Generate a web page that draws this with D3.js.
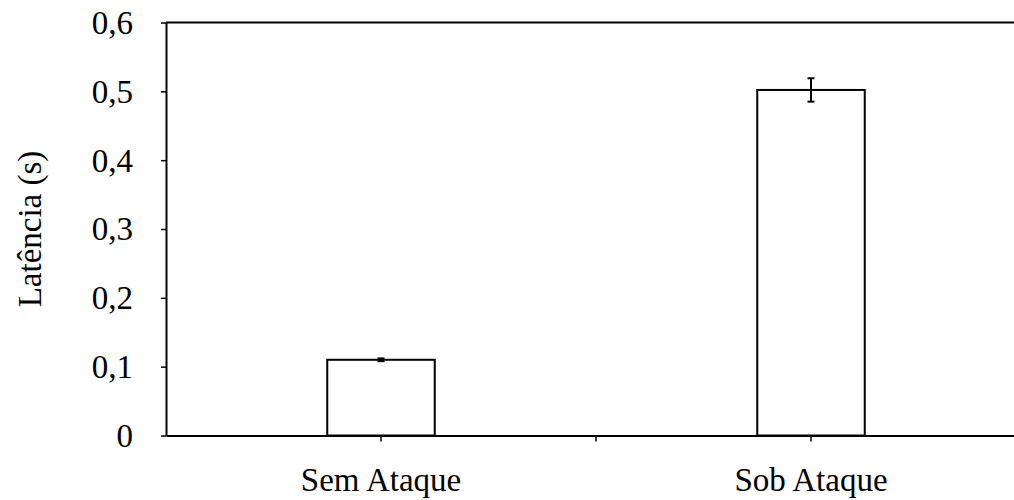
<!DOCTYPE html>
<html>
<meta charset="utf-8"/>
<head>
  <title>Latência</title>
  <script src="https://d3js.org/d3.v7.min.js" charset="utf-8"></script>
  <style>
    body { margin: 0; background: #fff; }
  </style>
</head>
<body>
<script>
  // data
  var categories = ["Sem Ataque", "Sob Ataque"];
  var latency = [0.11, 0.502];
  var errors = [0.002, 0.017];
  var yTicks = [0, 0.1, 0.2, 0.3, 0.4, 0.5, 0.6];

  var W = 1014, H = 500;
  var FONT = "Liberation Serif, Tinos, DejaVu Serif, Noto Serif, serif";
  var FS = 33;
  var margin = {top: 22.5, left: 166, bottom: 64.5},
      plotW = 860,
      plotH = H - margin.top - margin.bottom;

  var svg = d3.select("body").append("svg")
      .attr("width", W)
      .attr("height", H)
      .style("font-family", FONT);

  var g = svg.append("g")
      .attr("transform", "translate(" + margin.left + "," + margin.top + ")");

  var x = d3.scaleBand().domain(categories).range([0, plotW]).paddingInner(0).paddingOuter(0);
  var y = d3.scaleLinear().domain([0, 0.6]).range([plotH, 0]);
  var fmt = function(d){ return d3.format(".1f")(d).replace(".", ",").replace(/^0,0$/, "0"); };

  // top border
  g.append("line")
    .attr("x1", 0).attr("x2", plotW)
    .attr("y1", 0).attr("y2", 0)
    .style("stroke", "#000").style("stroke-width", 2);

  // bars
  var bw = x.bandwidth() * 0.25;
  g.selectAll("rect.bar").data(latency).enter().append("rect")
    .attr("class", "bar")
    .attr("x", function(d, i){ return x(categories[i]) + x.bandwidth()/2 - bw/2; })
    .attr("y", function(d){ return y(d); })
    .attr("width", bw)
    .attr("height", function(d){ return plotH - y(d); })
    .style("fill", "#fff").style("stroke", "#000").style("stroke-width", 2);

  // error bars
  var eb = g.selectAll("g.err").data(latency).enter().append("g")
    .attr("transform", function(d, i){ return "translate(" + (x(categories[i]) + x.bandwidth()/2) + ",0)"; });
  eb.append("line")
    .attr("x1", 0).attr("x2", 0)
    .attr("y1", function(d, i){ return y(d + errors[i]); })
    .attr("y2", function(d, i){ return y(d - errors[i]); })
    .style("stroke", "#000").style("stroke-width", 2);
  [1, -1].forEach(function(s){
    eb.append("line")
      .attr("x1", -3.5).attr("x2", 3.5)
      .attr("y1", function(d, i){ return y(d + s*errors[i]); })
      .attr("y2", function(d, i){ return y(d + s*errors[i]); })
      .style("stroke", "#000").style("stroke-width", 2);
  });

  // y axis
  var yAxis = g.append("g")
    .call(d3.axisLeft(y).tickValues(yTicks).tickFormat(fmt).tickSize(5).tickSizeOuter(0).tickPadding(28));
  yAxis.attr("font-family", null).attr("font-size", FS);
  yAxis.select(".domain").style("stroke-width", 2);
  yAxis.selectAll(".tick line").style("stroke-width", 1.5);
  yAxis.selectAll("text").attr("dy", "0.33em").style("font-family", FONT);

  // x axis with ticks at centres and boundaries
  var xAxis = g.append("g")
    .attr("transform", "translate(0," + plotH + ")")
    .call(d3.axisBottom(x).tickSize(0).tickSizeOuter(0));
  xAxis.attr("font-family", null).attr("font-size", FS);
  xAxis.select(".domain").style("stroke-width", 2);
  xAxis.selectAll("text").attr("y", 55).attr("dy", 0).style("font-family", FONT);
  var xTickPos = categories.map(function(c){ return x(c) + x.bandwidth()/2; })
    .concat(categories.slice(1).map(function(c){ return x(c); }));
  xAxis.selectAll("line.xt").data(xTickPos).enter().append("line")
    .attr("class", "xt")
    .attr("x1", function(d){ return d; }).attr("x2", function(d){ return d; })
    .attr("y1", 0).attr("y2", 6)
    .style("stroke", "#000").style("stroke-width", 1.5);

  // y label
  svg.append("text")
    .attr("transform", "translate(41," + (margin.top + plotH/2) + ") rotate(-90)")
    .attr("text-anchor", "middle")
    .style("font-family", FONT)
    .attr("font-size", FS)
    .text("Latência (s)");
</script>
</body>
</html>
